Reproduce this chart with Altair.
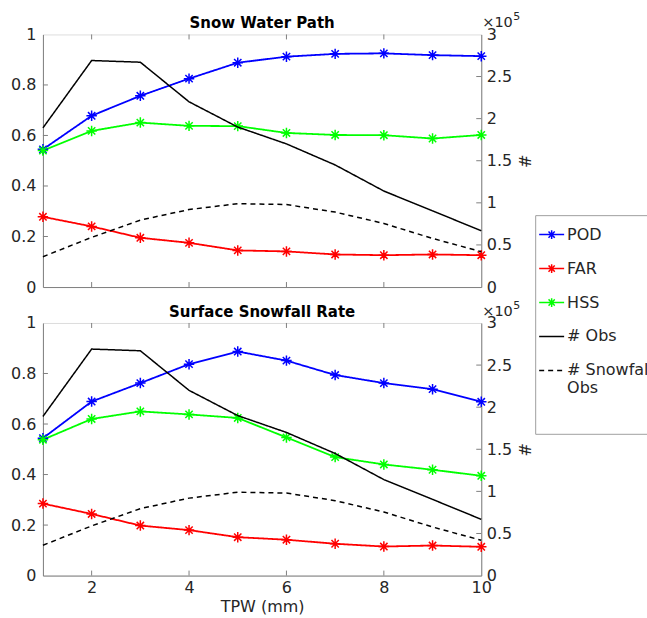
import altair as alt
import pandas as pd

# ---------------- data ----------------
tpw = [1, 2, 3, 4, 5, 6, 7, 8, 9, 10]

swp_pod = [0.545, 0.678, 0.757, 0.825, 0.888, 0.912, 0.923, 0.925, 0.918, 0.914]
swp_far = [0.278, 0.240, 0.195, 0.175, 0.145, 0.141, 0.129, 0.126, 0.129, 0.126]
swp_hss = [0.540, 0.618, 0.651, 0.638, 0.637, 0.610, 0.602, 0.601, 0.588, 0.602]

ssr_pod = [0.544, 0.689, 0.762, 0.837, 0.887, 0.851, 0.794, 0.762, 0.738, 0.688]
ssr_far = [0.285, 0.244, 0.198, 0.180, 0.152, 0.142, 0.126, 0.115, 0.119, 0.114]
ssr_hss = [0.538, 0.620, 0.650, 0.638, 0.624, 0.547, 0.469, 0.440, 0.419, 0.395]

# counts in units of 1e5
n_obs = [1.89, 2.69, 2.67, 2.20, 1.90, 1.70, 1.45, 1.14, 0.905, 0.668]
n_snow_obs = [0.36, 0.59, 0.795, 0.92, 0.99, 0.98, 0.89, 0.755, 0.577, 0.42]

series_names = ["POD", "FAR", "HSS", "# Obs", "# Snowfall Obs"]
series_colors = ["#0000ff", "#ff0000", "#00ff00", "#000000", "#000000"]
series_dashes = [[1, 0], [1, 0], [1, 0], [1, 0], [5, 4]]
panel_titles = ["Snow Water Path", "Surface Snowfall Rate"]

x_labels = [2, 4, 6, 8, 10]
x_ticks = [2, 4, 6, 8]
left_ticks = [0.2, 0.4, 0.6, 0.8]
right_ticks = [0.5, 1.0, 1.5, 2.0, 2.5]
left_labels = [0, 0.2, 0.4, 0.6, 0.8, 1]
right_labels = [0, 0.5, 1, 1.5, 2, 2.5, 3]

# ---------------- style ----------------
FONT = "DejaVu Sans"
W, H = 439, 253
AX = "#7f7f7f"
TXT = "#262626"
STAR = "M-1,0H1M0,-1V1M-0.7,-0.7L0.7,0.7M-0.7,0.7L0.7,-0.7"
LEG_STAR = "M-1,0H1M-0.35,0H0.35M0,-0.35V0.35M-0.25,-0.25L0.25,0.25M-0.25,0.25L0.25,-0.25"
LEG_LINE = "M-1,0H1"
PAD = "_pad"  # blank spacer row at the bottom of the legend box

leg_domain = series_names + [PAD]
color_scale = alt.Scale(domain=leg_domain, range=series_colors + ["#ffffff"])
dash_scale = alt.Scale(domain=leg_domain, range=series_dashes + [[1, 0]])
shape_scale = alt.Scale(
    domain=leg_domain, range=[LEG_STAR, LEG_STAR, LEG_STAR, LEG_LINE, LEG_LINE, "M0,0"]
)
x_scale = alt.Scale(domain=[1, 10], nice=False, zero=False)
y_left = alt.Scale(domain=[0, 1], nice=False)
y_right = alt.Scale(domain=[0, 3], nice=False)

legend = alt.Legend(
    orient="none", legendX=493, legendY=181, title=" ", titleFontSize=1, titlePadding=2,
    labelFont=FONT, labelFontSize=16, labelColor=TXT,
    strokeColor="#a0a0a0", fillColor="white", padding=3, rowPadding=12,
    symbolSize=625, symbolStrokeWidth=1.5, symbolOpacity=1, labelOffset=2, labelLimit=300,
    symbolFillColor="transparent",
    labelExpr=(
        "datum.label == '# Snowfall Obs' ? ['# Snowfall', ' Obs'] : "
        "(datum.label == '_pad' ? ' ' : datum.label)"
    ),
)


def panel(title, pod, far, hss, bottom, with_legend):
    metrics = pd.DataFrame({
        "tpw": tpw * 3,
        "value": pod + far + hss,
        "series": ["POD"] * 10 + ["FAR"] * 10 + ["HSS"] * 10,
    })
    counts = pd.DataFrame({
        "tpw": tpw * 2,
        "count": n_obs + n_snow_obs,
        "series": ["# Obs"] * 10 + ["# Snowfall Obs"] * 10,
    })

    x_axis = alt.Axis(
        values=x_labels, labels=bottom, ticks=False, domainColor=AX, grid=False,
        title="TPW (mm)" if bottom else None, labelFont=FONT, labelFontSize=16,
        labelColor=TXT, labelFlush=False, labelPadding=4, titleFont=FONT,
        titleFontSize=16, titleFontWeight="normal", titleColor=TXT, titlePadding=3,
    )
    x_enc = alt.X("tpw:Q", scale=x_scale, axis=x_axis)

    left_axis = alt.Axis(
        values=left_labels, format="~g", ticks=False, domainColor=AX, grid=False,
        title=None, labelFont=FONT, labelFontSize=16, labelColor=TXT, labelPadding=7,
        orient="left",
    )
    right_axis = alt.Axis(
        values=right_labels, format="~g", ticks=False, domainColor=AX, grid=False,
        title="#", titleAngle=90, titleFont=FONT, titleFontSize=16, titleFontWeight="normal",
        titleColor=TXT, titlePadding=4, labelFont=FONT, labelFontSize=16,
        labelColor=TXT, labelPadding=5, orient="right",
    )
    y_l = alt.Y("value:Q", scale=y_left, axis=left_axis)
    y_r = alt.Y("count:Q", scale=y_right, axis=right_axis)
    col = alt.Color("series:N", scale=color_scale)
    dash = alt.StrokeDash("series:N", scale=dash_scale)

    m_lines = alt.Chart(metrics).mark_line(strokeWidth=1.8).encode(
        x=x_enc, y=y_l, color=col, strokeDash=dash, detail="series:N",
    )
    m_points = alt.Chart(metrics).mark_point(
        shape=STAR, size=110, strokeWidth=1.5, filled=False, opacity=1
    ).encode(x=x_enc, y=y_l, color=col)
    ltick = alt.Chart(pd.DataFrame({"value": left_ticks})).mark_rule(color=AX).encode(
        y=y_l, x=alt.value(0), x2=alt.value(5)
    )
    xt_df = pd.DataFrame({"tpw": x_ticks})
    xtick_top = alt.Chart(xt_df).mark_rule(color=AX).encode(
        x=x_enc, y=alt.value(0), y2=alt.value(5)
    )
    xtick_bot = alt.Chart(xt_df).mark_rule(color=AX).encode(
        x=x_enc, y=alt.value(H), y2=alt.value(H - 5)
    )
    title_df = pd.DataFrame({"t": [title]})
    title_mark = alt.Chart(title_df).mark_text(
        font=FONT, fontSize=15, fontWeight="bold", color="black",
        align="center", baseline="alphabetic",
    ).encode(text="t:N", x=alt.value(W / 2), y=alt.value(-6))

    layers = []
    if with_legend:
        # empty layer that only carries the legend (color + shape + dash merged)
        leg_layer = alt.Chart(metrics).mark_point(filled=False, strokeWidth=1.5).encode(
            x=x_enc, y=y_l,
            color=alt.Color("series:N", scale=color_scale, legend=legend),
            shape=alt.Shape("series:N", scale=shape_scale, legend=legend),
            strokeDash=alt.StrokeDash("series:N", scale=dash_scale, legend=legend),
        ).transform_filter("false")
        layers.append(leg_layer)
    layers += [ltick, xtick_top, xtick_bot, m_lines, m_points, title_mark]
    left_layer = alt.layer(*layers)

    c_lines = alt.Chart(counts).mark_line(strokeWidth=1.5).encode(
        x=x_enc, y=y_r, color=col, strokeDash=dash, detail="series:N",
    )
    rtick = alt.Chart(pd.DataFrame({"count": right_ticks})).mark_rule(color=AX).encode(
        y=y_r, x=alt.value(W), x2=alt.value(W - 5)
    )
    exp_df = pd.DataFrame({"base": ["×10"], "sup": ["5"]})
    exp_base = alt.Chart(exp_df).mark_text(
        font=FONT, fontSize=14.5, align="left", baseline="alphabetic", color=TXT, dx=1
    ).encode(text="base:N", x=alt.value(W), y=alt.value(-7))
    exp_sup = alt.Chart(exp_df).mark_text(
        font=FONT, fontSize=11, align="left", baseline="alphabetic", color=TXT, dx=32
    ).encode(text="sup:N", x=alt.value(W), y=alt.value(-14))
    right_layer = alt.layer(c_lines, rtick, exp_base, exp_sup)

    return alt.layer(left_layer, right_layer).resolve_scale(y="independent").properties(
        width=W, height=H,
    )


top = panel(panel_titles[0], swp_pod, swp_far, swp_hss, False, True)
bot = panel(panel_titles[1], ssr_pod, ssr_far, ssr_hss, True, False)

chart = alt.vconcat(top, bot, spacing=36, bounds="flush").configure_view(
    stroke="#b5b5b5", strokeWidth=1
).configure(
    padding={"left": 10, "top": 10, "right": -10, "bottom": 0}, font=FONT,
    background="white",
)

chart.save("out.html", embed_options={"renderer": "svg", "actions": False})
